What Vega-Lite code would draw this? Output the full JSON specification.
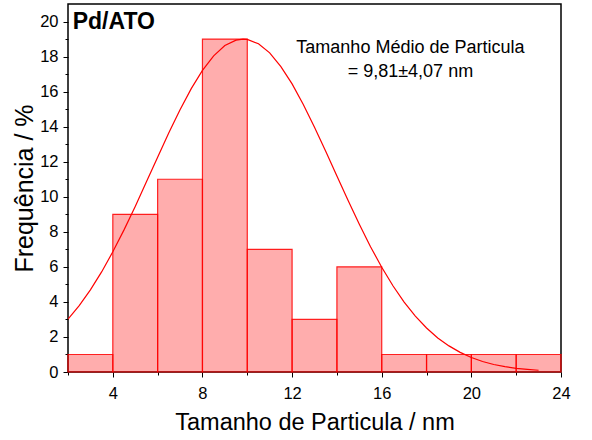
{
  "$schema": "https://vega.github.io/schema/vega-lite/v6.json",
  "width": 493,
  "height": 368,
  "autosize": "none",
  "padding": {"left": 68, "top": 4, "right": 31, "bottom": 68},
  "background": "white",
  "config": {
    "view": {"stroke": "#000", "strokeWidth": 1.5},
    "font": "Liberation Sans",
    "axis": {"grid": false, "domain": false, "tickColor": "#000", "tickWidth": 1, "labelColor": "#000", "titleColor": "#000", "labelFont": "Liberation Sans", "titleFont": "Liberation Sans", "labelFontSize": 16.5, "titleFontWeight": "normal", "labelOverlap": false, "labelFlush": false}
  },
  "resolve": {"axis": {"x": "independent", "y": "independent"}},
  "datasets": {
    "bars": [
      {"start": 2, "end": 4, "freq": 1},
      {"start": 4, "end": 6, "freq": 9},
      {"start": 6, "end": 8, "freq": 11},
      {"start": 8, "end": 10, "freq": 19},
      {"start": 10, "end": 12, "freq": 7},
      {"start": 12, "end": 14, "freq": 3},
      {"start": 14, "end": 16, "freq": 6},
      {"start": 16, "end": 18, "freq": 1},
      {"start": 18, "end": 20, "freq": 1},
      {"start": 20, "end": 22, "freq": 1},
      {"start": 22, "end": 24, "freq": 1}
    ],
    "curve": [
      {"size": 2, "fit": 3.02}, {"size": 2.5, "fit": 3.79}, {"size": 3, "fit": 4.69}, {"size": 3.5, "fit": 5.71},
      {"size": 4, "fit": 6.86}, {"size": 4.5, "fit": 8.11}, {"size": 5, "fit": 9.45}, {"size": 5.5, "fit": 10.85},
      {"size": 6, "fit": 12.26}, {"size": 6.5, "fit": 13.65}, {"size": 7, "fit": 14.97}, {"size": 7.5, "fit": 16.17},
      {"size": 8, "fit": 17.21}, {"size": 8.5, "fit": 18.04}, {"size": 9, "fit": 18.63}, {"size": 9.5, "fit": 18.94},
      {"size": 9.81, "fit": 19.0}, {"size": 10, "fit": 18.98}, {"size": 10.5, "fit": 18.73}, {"size": 11, "fit": 18.21},
      {"size": 11.5, "fit": 17.43}, {"size": 12, "fit": 16.44}, {"size": 12.5, "fit": 15.27}, {"size": 13, "fit": 13.97},
      {"size": 13.5, "fit": 12.6}, {"size": 14, "fit": 11.18}, {"size": 14.5, "fit": 9.78}, {"size": 15, "fit": 8.43},
      {"size": 15.5, "fit": 7.15}, {"size": 16, "fit": 5.98}, {"size": 16.5, "fit": 4.92}, {"size": 17, "fit": 3.99},
      {"size": 17.5, "fit": 3.19}, {"size": 18, "fit": 2.51}, {"size": 18.5, "fit": 1.94}, {"size": 19, "fit": 1.49},
      {"size": 19.5, "fit": 1.12}, {"size": 20, "fit": 0.83}, {"size": 20.5, "fit": 0.6}, {"size": 21, "fit": 0.43},
      {"size": 21.5, "fit": 0.31}, {"size": 22, "fit": 0.21}, {"size": 22.5, "fit": 0.15}, {"size": 23, "fit": 0.1}
    ]
  },
  "layer": [
    {
      "data": {"name": "bars"},
      "mark": {"type": "bar", "fill": "#ff0000", "fillOpacity": 0.32, "stroke": "#ff0000", "strokeOpacity": 0.85, "strokeWidth": 1.2},
      "encoding": {
        "x": {
          "field": "start", "type": "quantitative",
          "scale": {"domain": [2, 24], "nice": false, "zero": false},
          "axis": {
            "values": [2, 4, 6, 8, 10, 12, 14, 16, 18, 20, 22, 24],
            "labelExpr": "datum.value % 4 == 0 ? datum.label : ''",
            "tickSize": {"condition": {"test": "datum.value % 4 == 0", "value": 5}, "value": 3},
            "labelPadding": 8,
            "title": "Tamanho de Particula / nm",
            "titleFontSize": 23.5,
            "titleX": 246.5,
            "titleY": 57,
            "titleBaseline": "alphabetic",
            "titleAlign": "center"
          }
        },
        "x2": {"field": "end"},
        "y": {
          "field": "freq", "type": "quantitative",
          "scale": {"domain": [0, 21], "nice": false},
          "axis": {
            "values": [0, 1, 2, 3, 4, 5, 6, 7, 8, 9, 10, 11, 12, 13, 14, 15, 16, 17, 18, 19, 20],
            "labelExpr": "datum.value % 2 == 0 ? datum.label : ''",
            "tickSize": {"condition": {"test": "datum.value % 2 == 0", "value": 5}, "value": 3},
            "labelPadding": 5,
            "title": "Frequência / %",
            "titleFontSize": 25,
            "titleX": -36,
            "titleY": 184,
            "titleBaseline": "alphabetic",
            "titleAlign": "center",
            "titleAngle": -90
          }
        },
        "y2": {"datum": 0}
      }
    },
    {
      "data": {"name": "curve"},
      "mark": {"type": "line", "color": "#ff0000", "strokeWidth": 1.2, "clip": true},
      "encoding": {
        "x": {"field": "size", "type": "quantitative", "axis": null},
        "y": {"field": "fit", "type": "quantitative", "axis": null}
      }
    },
    {
      "data": {"values": [{}]},
      "mark": {"type": "text", "text": "Pd/ATO", "font": "Liberation Sans", "fontSize": 23, "fontWeight": "bold", "align": "left", "baseline": "alphabetic", "color": "#000"},
      "encoding": {
        "x": {"datum": 2.21, "type": "quantitative", "axis": null},
        "y": {"datum": 19.58, "type": "quantitative", "axis": null}
      }
    },
    {
      "data": {"values": [{}]},
      "mark": {"type": "text", "text": "Tamanho Médio de Particula", "font": "Liberation Sans", "fontSize": 18, "align": "center", "baseline": "alphabetic", "color": "#000"},
      "encoding": {
        "x": {"datum": 17.28, "type": "quantitative", "axis": null},
        "y": {"datum": 18.21, "type": "quantitative", "axis": null}
      }
    },
    {
      "data": {"values": [{}]},
      "mark": {"type": "text", "text": "= 9,81±4,07 nm", "font": "Liberation Sans", "fontSize": 18, "align": "center", "baseline": "alphabetic", "color": "#000"},
      "encoding": {
        "x": {"datum": 17.28, "type": "quantitative", "axis": null},
        "y": {"datum": 16.82, "type": "quantitative", "axis": null}
      }
    }
  ]
}
